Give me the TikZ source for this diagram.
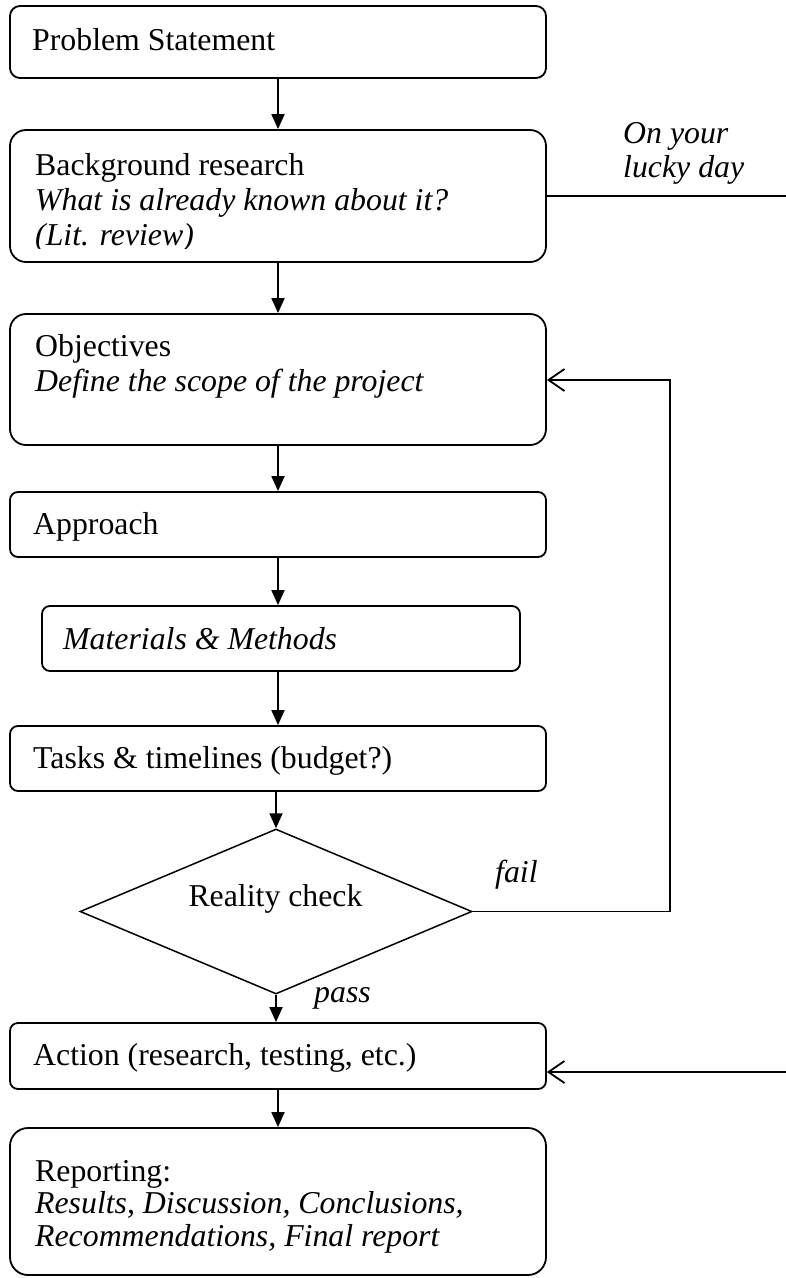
\documentclass[tikz,border=0pt]{standalone}
\usepackage{fontspec}
\setmainfont{Liberation Serif}
\usetikzlibrary{arrows.meta,shapes.geometric}
\begin{document}
\begin{tikzpicture}[x=1pt,y=-1pt,
  box/.style={draw, line width=1.8pt, inner sep=0pt, minimum width=536pt},
  txt/.style={anchor=base west, inner sep=0pt, font=\fontsize{31.8}{36}\selectfont},
  itxt/.style={anchor=base west, inner sep=0pt, font=\fontsize{31.8}{36}\selectfont\itshape},
  arr/.style={line width=1.8pt, -{Triangle[length=15pt,width=13pt]}},
  barb/.style={line width=1.8pt, -{Straight Barb[length=16pt,width=22pt,line width=1.8pt]}},
  plainline/.style={line width=1.8pt}]
\useasboundingbox (0,0) rectangle (786,1278);

% boxes
\node[box, rounded corners=10pt, minimum height=72pt] (ps) at (278,42) {};
\node[box, rounded corners=16pt, minimum height=132pt] (bg) at (278,196) {};
\node[box, rounded corners=16pt, minimum height=131pt] (obj) at (278,379.5) {};
\node[box, rounded corners=8pt, minimum height=65pt] (app) at (278,524.5) {};
\node[box, rounded corners=8pt, minimum height=65pt, minimum width=478pt] (mat) at (281,638.5) {};
\node[box, rounded corners=8pt, minimum height=65pt] (tasks) at (278,758.5) {};
\node[draw, diamond, line width=1.5pt, inner sep=0pt, minimum width=392pt, minimum height=165pt] (chk) at (276,911.5) {};
\node[box, rounded corners=8pt, minimum height=66pt] (act) at (278,1056) {};
\node[box, rounded corners=18pt, minimum height=147pt] (rep) at (278,1201.5) {};

% texts
\node[txt] (pst) at (32,50) {Problem Statement};
\node[txt] (bgt1) at (35,175) {Background research};
\node[itxt] (bgt2) at (35,210) {What is already known about it?};
\begin{scope}
\clip (0,130) rectangle (546,248);
\node[itxt] (bgt3) at (35,245) {(Lit. review)};
\end{scope}
\node[txt] (objt1) at (35,356) {Objectives};
\node[itxt] (objt2) at (35,391) {Define the scope of the project};
\node[txt] (appt) at (33,534) {Approach};
\node[itxt] (matt) at (63,649) {Materials \& Methods};
\node[txt] (taskt) at (33,768) {Tasks \& timelines (budget?)};
\node[txt, anchor=base] (chkt) at (275.5,906) {Reality check};
\node[txt] (actt) at (33,1065) {Action (research, testing, etc.)};
\node[txt] (rept1) at (35,1181) {Reporting:};
\node[itxt] (rept2) at (35,1213) {Results, Discussion, Conclusions,};
\node[itxt] (rept3) at (35,1246) {Recommendations, Final report};
\node[itxt] (lucky1) at (623,143) {On your};
\node[itxt] (lucky2) at (623,177) {lucky day};
\node[itxt] (failt) at (495,882) {fail};
\node[itxt] (passt) at (314,1002) {pass};

% connectors
\draw[arr] (ps) -- (ps |- bg.north);
\draw[arr] (bg) -- (bg |- obj.north);
\draw[arr] (obj) -- (obj |- app.north);
\draw[arr] (app) -- (app |- mat.north);
\draw[arr] (app.south |- mat.south) -- (app |- tasks.north);
\draw[arr] (tasks.south -| chk.north) -- (chk.north);
\draw[arr] (chk.south) -- (chk.south |- act.north);
\draw[arr] (act) -- (act |- rep.north);

\coordinate (loopx) at (670,380);
\draw[barb] (chk.east) -| (loopx) -- (loopx -| obj.east);

\coordinate (rightedge) at (786,0);
\draw[plainline] (bg.east) -- (bg.east -| rightedge);

\coordinate (actin) at (786,1072);
\draw[barb] (actin) -- (actin -| act.east);
\end{tikzpicture}
\end{document}
